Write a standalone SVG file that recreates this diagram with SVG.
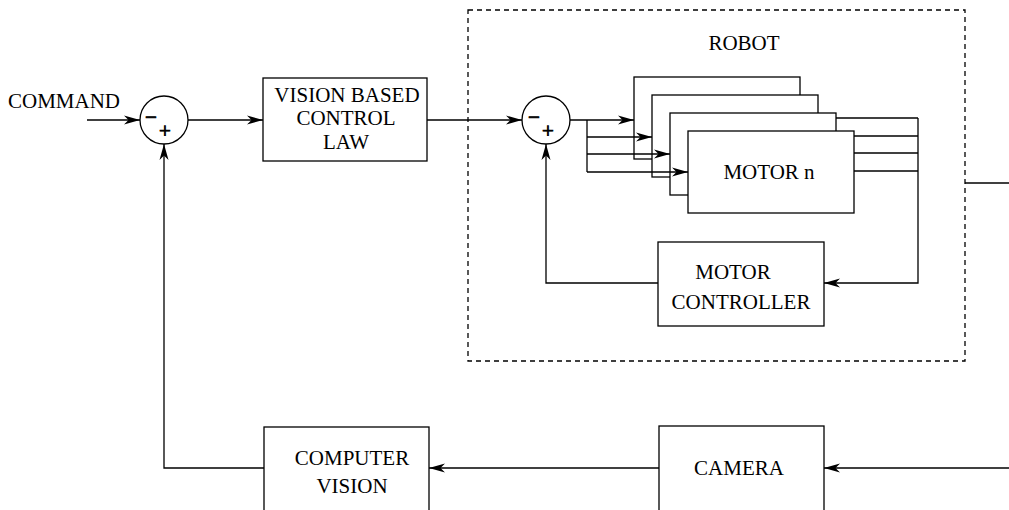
<svg xmlns="http://www.w3.org/2000/svg" width="1009" height="510" viewBox="0 0 1009 510">
<style>
.box{fill:#fff;stroke:#000;stroke-width:1.3}
.sum{fill:#fff;stroke:#000;stroke-width:1.3}
.lbl{font-family:"Liberation Serif","Times New Roman","DejaVu Serif",serif;font-size:21px;fill:#000;text-anchor:middle}
.sign{font-family:"Liberation Serif","Times New Roman","DejaVu Serif",serif;font-size:21px;fill:#000;stroke:#000;stroke-width:0.8;text-anchor:middle}
.ln{fill:none;stroke:#000;stroke-width:1.3}
.arr{fill:none;stroke:#000;stroke-width:1.3;marker-end:url(#ah)}
.dash{fill:none;stroke:#000;stroke-width:1.3;stroke-dasharray:5 4}
</style>
<defs>
<marker id="ah" markerWidth="17" markerHeight="10" refX="16" refY="5" orient="auto" markerUnits="userSpaceOnUse">
<path d="M0,0.5 L16,5 L0,9.5 L4.5,5 z" fill="#000"/>
</marker>
</defs>
<rect width="1009" height="510" fill="#fff"/>

<g id="robot">
<rect class="dash" x="468" y="10" width="497" height="351"/>
<text class="lbl" x="744" y="50">ROBOT</text>
</g>

<g id="command">
<text class="lbl" x="64" y="108">COMMAND</text>
</g>

<g id="sum1">
<circle class="sum" cx="164" cy="120" r="24"/>
<text class="sign" x="151" y="124">−</text>
<text class="sign" x="165" y="138">+</text>
</g>

<g id="vision-law">
<rect class="box" x="263" y="78" width="164" height="83"/>
<text class="lbl" x="347" y="102">VISION BASED</text>
<text class="lbl" x="346" y="125">CONTROL</text>
<text class="lbl" x="346" y="149">LAW</text>
</g>

<g id="sum2">
<circle class="sum" cx="546" cy="120" r="24"/>
<text class="sign" x="534" y="124">−</text>
<text class="sign" x="548" y="138">+</text>
</g>

<g id="motor1"><rect class="box" x="634" y="77" width="166" height="82"/></g>
<g id="motor2"><rect class="box" x="652" y="95" width="166" height="82"/></g>
<g id="motor3"><rect class="box" x="670" y="113" width="166" height="82"/></g>
<g id="motorn">
<rect class="box" x="688" y="131" width="166" height="82"/>
<text class="lbl" x="769" y="179">MOTOR n</text>
</g>

<g id="motor-controller">
<rect class="box" x="658" y="242" width="166" height="84"/>
<text class="lbl" x="733" y="279">MOTOR</text>
<text class="lbl" x="741" y="309">CONTROLLER</text>
</g>

<g id="computer-vision">
<rect class="box" x="264" y="427" width="165" height="110"/>
<text class="lbl" x="352" y="465">COMPUTER</text>
<text class="lbl" x="352" y="493">VISION</text>
</g>

<g id="camera">
<rect class="box" x="659" y="426" width="165" height="110"/>
<text class="lbl" x="739" y="475">CAMERA</text>
</g>

<g id="connectors">
<path class="arr" d="M87,120 H140"/>
<path class="arr" d="M188,120 H263"/>
<path class="arr" d="M427,120 H522"/>
<path class="arr" d="M570,120 H634"/>
<path class="ln" d="M587,120 V172"/>
<path class="arr" d="M587,137 H652"/>
<path class="arr" d="M587,154 H670"/>
<path class="arr" d="M587,172 H688"/>
<path class="ln" d="M836,118 H918"/>
<path class="ln" d="M854,136 H918"/>
<path class="ln" d="M854,153 H918"/>
<path class="ln" d="M854,171 H918"/>
<path class="arr" d="M918,118 V283 H824"/>
<path class="arr" d="M658,283 H546 V144"/>
<path class="ln" d="M965,183 H1009"/>
<path class="arr" d="M1009,468 H824"/>
<path class="arr" d="M659,468 H429"/>
<path class="arr" d="M264,468 H164 V144"/>
</g>
</svg>
